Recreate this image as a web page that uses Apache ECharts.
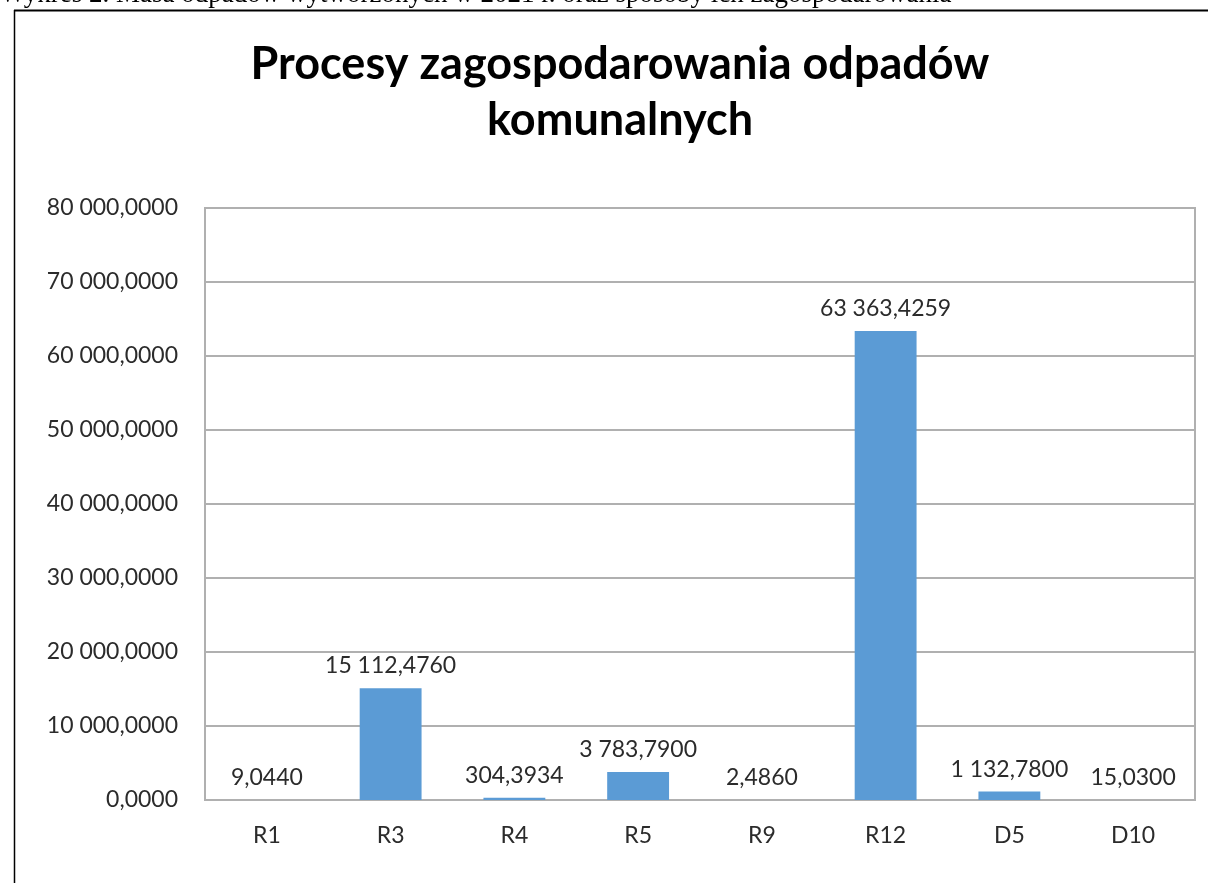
<!DOCTYPE html>
<html><head><meta charset="utf-8">
<script src="https://cdn.jsdelivr.net/npm/echarts@6/dist/echarts.min.js"></script>
<style>html,body{margin:0;padding:0;background:#fff}#c{width:1208px;height:883px}</style>
</head><body><div id="c"></div>
<script>
var categories = ['R1','R3','R4','R5','R9','R12','D5','D10'];
var values = [9.0440, 15112.4760, 304.3934, 3783.7900, 2.4860, 63363.4259, 1132.7800, 15.0300];
var yTicks = [0, 10000, 20000, 30000, 40000, 50000, 60000, 70000, 80000];
var titleText = 'Procesy zagospodarowania odpadów\nkomunalnych';
var captionText = 'Wykres 2. Masa odpadów wytworzonych w 2021 r. oraz sposoby ich zagospodarowania';

function fmt(v){
  var s = v.toFixed(4).split('.');
  var i = s[0].replace(/\B(?=(\d{3})+(?!\d))/g, ' ');
  return i + ',' + s[1];
}
var font = 'Lato, "Open Sans", sans-serif';
var textColor = '#2b2b2b';
var chart = echarts.init(document.getElementById('c'));
chart.setOption({
  animation:false,
  backgroundColor:'#fff',
  title:{text:titleText,left:615,textAlign:'center',top:31,
    textStyle:{fontFamily:font,fontSize:45,fontWeight:'bold',color:'#000',lineHeight:56}},
  graphic:[
    {type:'text',left:0,top:-19,style:{text:captionText,font:'27px "Liberation Serif", serif',fill:'#000'}},
    {type:'line',shape:{x1:14,y1:10.5,x2:1208,y2:10.5},style:{stroke:'#000',lineWidth:2}},
    {type:'line',shape:{x1:14.5,y1:10,x2:14.5,y2:883},style:{stroke:'#000',lineWidth:1.5}}
  ],
  grid:{left:205,right:13,top:208,bottom:83,show:true,borderColor:'#b0b0b0',borderWidth:2,backgroundColor:'transparent'},
  xAxis:{type:'category',data:categories,
    axisLine:{lineStyle:{color:'#b0b0b0',width:2}},axisTick:{show:false},
    axisLabel:{fontFamily:font,fontSize:23,color:textColor,margin:24}},
  yAxis:{type:'value',min:yTicks[0],max:yTicks[yTicks.length-1],interval:yTicks[1]-yTicks[0],
    axisLine:{show:false},axisTick:{show:false},
    splitLine:{lineStyle:{color:'#b0b0b0',width:2}},
    axisLabel:{fontFamily:font,fontSize:23,color:textColor,margin:27,formatter:function(v){return fmt(v);}}},
  series:[{type:'bar',data:values,barWidth:'50%',itemStyle:{color:'#5b9bd5'},
    label:{show:true,position:'top',distance:11,fontFamily:font,fontSize:23,color:textColor,
      formatter:function(p){return fmt(p.value);}}}]
});
</script></body></html>
